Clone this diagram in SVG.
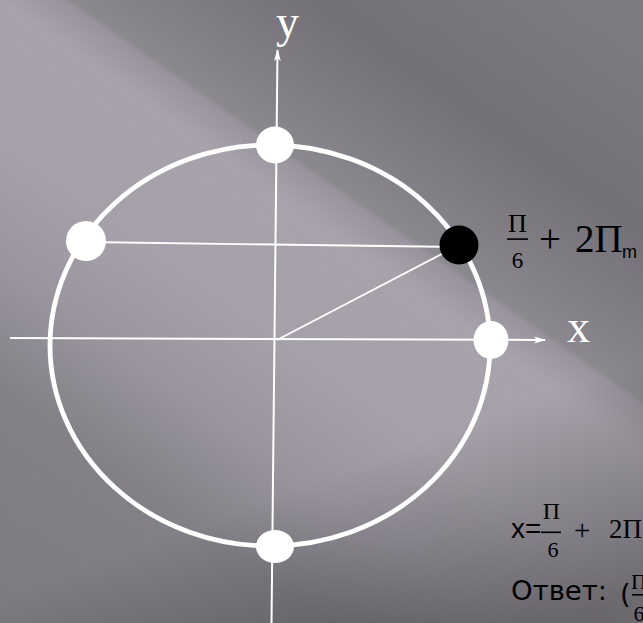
<svg xmlns="http://www.w3.org/2000/svg" width="643" height="623" viewBox="0 0 643 623">
  <defs>
    <linearGradient id="bg" gradientUnits="userSpaceOnUse" x1="189.4" y1="-270.3" x2="-275.5" y2="393.1">
      <stop offset="0" stop-color="#7d7a81"/>
      <stop offset="0.185" stop-color="#737077"/>
      <stop offset="0.321" stop-color="#858289"/>
      <stop offset="0.356" stop-color="#8b888f"/>
      <stop offset="0.363" stop-color="#98939c"/>
      <stop offset="0.407" stop-color="#a7a2ab"/>
      <stop offset="0.556" stop-color="#a5a0a9"/>
      <stop offset="0.679" stop-color="#99949e"/>
      <stop offset="0.802" stop-color="#838087"/>
      <stop offset="1" stop-color="#7e7b82"/>
    </linearGradient>
    <linearGradient id="shade" gradientUnits="userSpaceOnUse" x1="194.9" y1="524.7" x2="271.4" y2="730.8">
      <stop offset="0" stop-color="#000" stop-opacity="0"/>
      <stop offset="0.36" stop-color="#000" stop-opacity="0.12"/>
      <stop offset="1" stop-color="#000" stop-opacity="0.34"/>
    </linearGradient>
    <marker id="arr" viewBox="0 0 12 8" refX="11" refY="4" markerWidth="12" markerHeight="8" markerUnits="userSpaceOnUse" orient="auto">
      <path d="M0,0.5 L12,4 L0,7.5 L3,4 z" fill="#fff"/>
    </marker>
    <style>
      .ax { stroke: #fff; stroke-width: 2; fill: none; }
      .thin { stroke: #fff; stroke-width: 1.8; fill: none; }
      .dot { fill: #fff; }
      .ser { font-family: "Liberation Serif", "DejaVu Serif", serif; }
      .san { font-family: "Liberation Sans", Arial, sans-serif; }
      .dv { font-family: "DejaVu Sans", Verdana, sans-serif; }
    </style>
  </defs>

  <rect x="0" y="0" width="643" height="623" fill="url(#bg)"/>
  <rect x="0" y="0" width="643" height="623" fill="url(#shade)"/>

  <g id="circle">
    <ellipse cx="270" cy="345.5" rx="220" ry="200.5" fill="none" stroke="#fff" stroke-width="4.8"/>
  </g>

  <g id="connectors">
    <line class="ax" x1="271.5" y1="623" x2="277.5" y2="50" marker-end="url(#arr)"/>
    <line class="ax" x1="10" y1="338" x2="545" y2="340" marker-end="url(#arr)"/>
    <line class="thin" x1="86" y1="242" x2="459" y2="247"/>
    <line class="thin" x1="277" y1="340" x2="459" y2="245"/>
  </g>

  <g id="point-top"><ellipse class="dot" cx="275" cy="145" rx="19" ry="18.5"/></g>
  <g id="point-bottom"><ellipse class="dot" cx="275" cy="546.5" rx="19" ry="16.5"/></g>
  <g id="point-left"><circle class="dot" cx="86" cy="241" r="20"/></g>
  <g id="point-right"><ellipse class="dot" cx="491" cy="340" rx="17.5" ry="19"/></g>
  <g id="point-pi6"><circle cx="459" cy="245" r="19.5" fill="#000"/></g>

  <g id="axis-labels" fill="#fff">
    <text class="ser" x="276" y="37" font-size="46">y</text>
    <text class="ser" x="567" y="342" font-size="46">x</text>
  </g>

  <g id="label-pi6" fill="#000">
    <text class="ser" x="517.5" y="232" font-size="26" text-anchor="middle">П</text>
    <rect x="507" y="238.3" width="21" height="1.6"/>
    <text class="ser" x="517.5" y="268" font-size="23" text-anchor="middle">6</text>
    <text class="ser" x="539" y="252" font-size="39">+</text>
    <text class="ser" x="575" y="252" font-size="39">2П</text>
    <text class="san" x="622" y="258" font-size="18">m</text>
  </g>

  <g id="solution" fill="#000">
    <text class="san" x="511" y="538" font-size="28">x=</text>
    <text class="ser" x="551.5" y="519" font-size="24" text-anchor="middle">П</text>
    <rect x="541" y="531.5" width="20" height="1.6"/>
    <text class="ser" x="553" y="557" font-size="22" text-anchor="middle">6</text>
    <text class="ser" x="574" y="540" font-size="29">+</text>
    <text class="ser" x="609" y="538" font-size="27">2П</text>
    <text class="dv" x="511" y="600" font-size="26" textLength="96" lengthAdjust="spacingAndGlyphs">Ответ:</text>
    <text class="dv" x="620" y="603" font-size="27">(</text>
    <text class="ser" x="639" y="589" font-size="22" text-anchor="middle">П</text>
    <rect x="632" y="594" width="14" height="1.6"/>
    <text class="ser" x="639" y="621" font-size="22" text-anchor="middle">6</text>
  </g>
</svg>
